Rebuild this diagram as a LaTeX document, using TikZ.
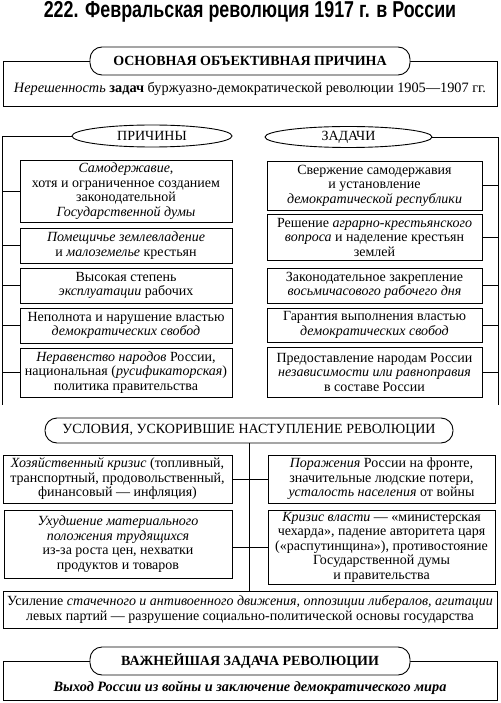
\documentclass[tikz,border=0pt]{standalone}
\usepackage{fontspec}
\usepackage{graphicx}
\setmainfont{Liberation Serif}
\newfontfamily\titlefont{Liberation Sans}
\usetikzlibrary{shapes.geometric}
\newcommand\fs{\fontsize{14}{14.5}\selectfont}
\newcommand\fl{\fontsize{14.3}{14.5}\selectfont}
\newcommand\hf{\fontsize{14}{14}\selectfont}
\begin{document}
\begin{tikzpicture}[x=1pt,y=-1pt,line width=0.9pt,
  box/.style={draw,align=center,inner sep=0pt,font=\fs},
  lbox/.style={box,minimum width=212},
  rbox/.style={box,minimum width=215},
  pill/.style={draw,fill=white,rounded corners=12pt,inner sep=0pt},
  oval/.style={draw,fill=white,ellipse,inner sep=0pt,font=\hf},
  txt/.style={inner sep=0pt,align=center,font=\fl}]
\useasboundingbox (0,0) rectangle (500,703);
% title
\node[font=\titlefont\bfseries\fontsize{23}{23}\selectfont] (title) at (250,12)
  {\scalebox{0.776}[1]{222. Февральская революция 1917 г. в России}};
% section 1
\node[draw,minimum width=494,minimum height=45,inner sep=0pt] (b1) at (250,83.5) {};
\node[txt] (b1t) at (250,89) {\textit{Нерешенность} \textbf{задач} буржуазно-демократической революции 1905—1907~гг.};
\node[pill,minimum width=320,minimum height=28,font=\bfseries\hf] (h1) at (250,61) {ОСНОВНАЯ ОБЪЕКТИВНАЯ ПРИЧИНА};
% section 2
\node[oval,minimum width=160,minimum height=22] (pr) at (152,136) {ПРИЧИНЫ};
\node[oval,minimum width=167,minimum height=21] (zd) at (348.5,137) {ЗАДАЧИ};
\coordinate (lt) at (2,136);
\coordinate (lb) at (2,405);
\coordinate (rt) at (498,137);
\coordinate (rb) at (498,405);
\draw (pr.west) -- (lt) -- (lb);
\draw (zd.east) -- (rt) -- (rb);
\node[lbox,minimum height=62] (l1) at (126,191) {\textit{Самодержавие},\\ хотя и ограниченное созданием\\ законодательной\\ \textit{Государственной думы}};
\node[lbox,minimum height=35] (l2) at (126,245.5) {\textit{Помещичье землевладение}\\ и \textit{малоземелье} крестьян};
\node[lbox,minimum height=35] (l3) at (126,285.5) {Высокая степень\\ \textit{эксплуатации} рабочих};
\node[lbox,minimum height=35] (l4) at (126,325.5) {Неполнота и нарушение властью\\ \textit{демократических свобод}};
\node[lbox,minimum height=49] (l5) at (126,372.5) {\textit{Неравенство народов} России,\\ национальная (\textit{русификаторская})\\ политика правительства};
\foreach \n in {l1,l2,l3,l4,l5} \draw (\n.west) -- (\n.west -| lt);
\node[rbox,minimum height=49] (r1) at (374.5,185.5) {Свержение самодержавия\\ и установление\\ \textit{демократической республики}};
\node[rbox,minimum height=46] (r2) at (374.5,237) {Решение \textit{аграрно-крестьянского}\\ \textit{вопроса} и наделение крестьян\\ землей};
\node[rbox,minimum height=35] (r3) at (374.5,285.5) {Законодательное закрепление\\ \textit{восьмичасового рабочего дня}};
\node[rbox,minimum height=34] (r4) at (374.5,325) {Гарантия выполнения властью\\ \textit{демократических свобод}};
\node[rbox,minimum height=50] (r5) at (374.5,372) {Предоставление народам России\\ \textit{независимости или равноправия}\\ в составе России};
\foreach \n in {r1,r2,r3,r4,r5} \draw (\n.east) -- (\n.east -| rt);
% section 3
\node[pill,minimum width=408,minimum height=25,font=\hf] (us) at (249,430.5) {УСЛОВИЯ, УСКОРИВШИЕ НАСТУПЛЕНИЕ РЕВОЛЮЦИИ};
\node[box,minimum width=229,minimum height=48] (c1) at (117.5,479) {\textit{Хозяйственный кризис} (топливный,\\ транспортный, продовольственный,\\ финансовый — инфляция)};
\node[box,minimum width=228,minimum height=68] (c2) at (118,544) {\textit{Ухудшение материального}\\ \textit{положения трудящихся}\\ из-за роста цен, нехватки\\ продуктов и товаров};
\node[box,minimum width=227,minimum height=48] (c3) at (381.5,479) {\textit{Поражения} России на фронте,\\ значительные людские потери,\\ \textit{усталость населения} от войны};
\node[box,minimum width=227,minimum height=74] (c4) at (381.5,547) {\textit{Кризис власти} — «министерская\\ чехарда», падение авторитета царя\\ («распутинщина»), противостояние\\ Государственной думы\\ и правительства};
\node[box,minimum width=494,minimum height=37] (bt) at (250,609.5) {Усиление \textit{стачечного и антивоенного движения, оппозиции либералов, агитации}\\ левых партий — разрушение социально-политической основы государства};
\draw (us.south) -- (us.south |- bt.north);
\draw (c1.east) -- (c3.west);
\draw (c2.east |- c4.west) -- (c4.west);
% section 4
\node[draw,minimum width=494,minimum height=39,inner sep=0pt] (b4) at (250,680.5) {};
\node[txt,font=\fl\bfseries\itshape] (b4t) at (250,688) {Выход России из войны и заключение демократического мира};
\node[pill,minimum width=320,minimum height=28,font=\bfseries\hf] (h4) at (250,661) {ВАЖНЕЙШАЯ ЗАДАЧА РЕВОЛЮЦИИ};
\end{tikzpicture}
\end{document}
